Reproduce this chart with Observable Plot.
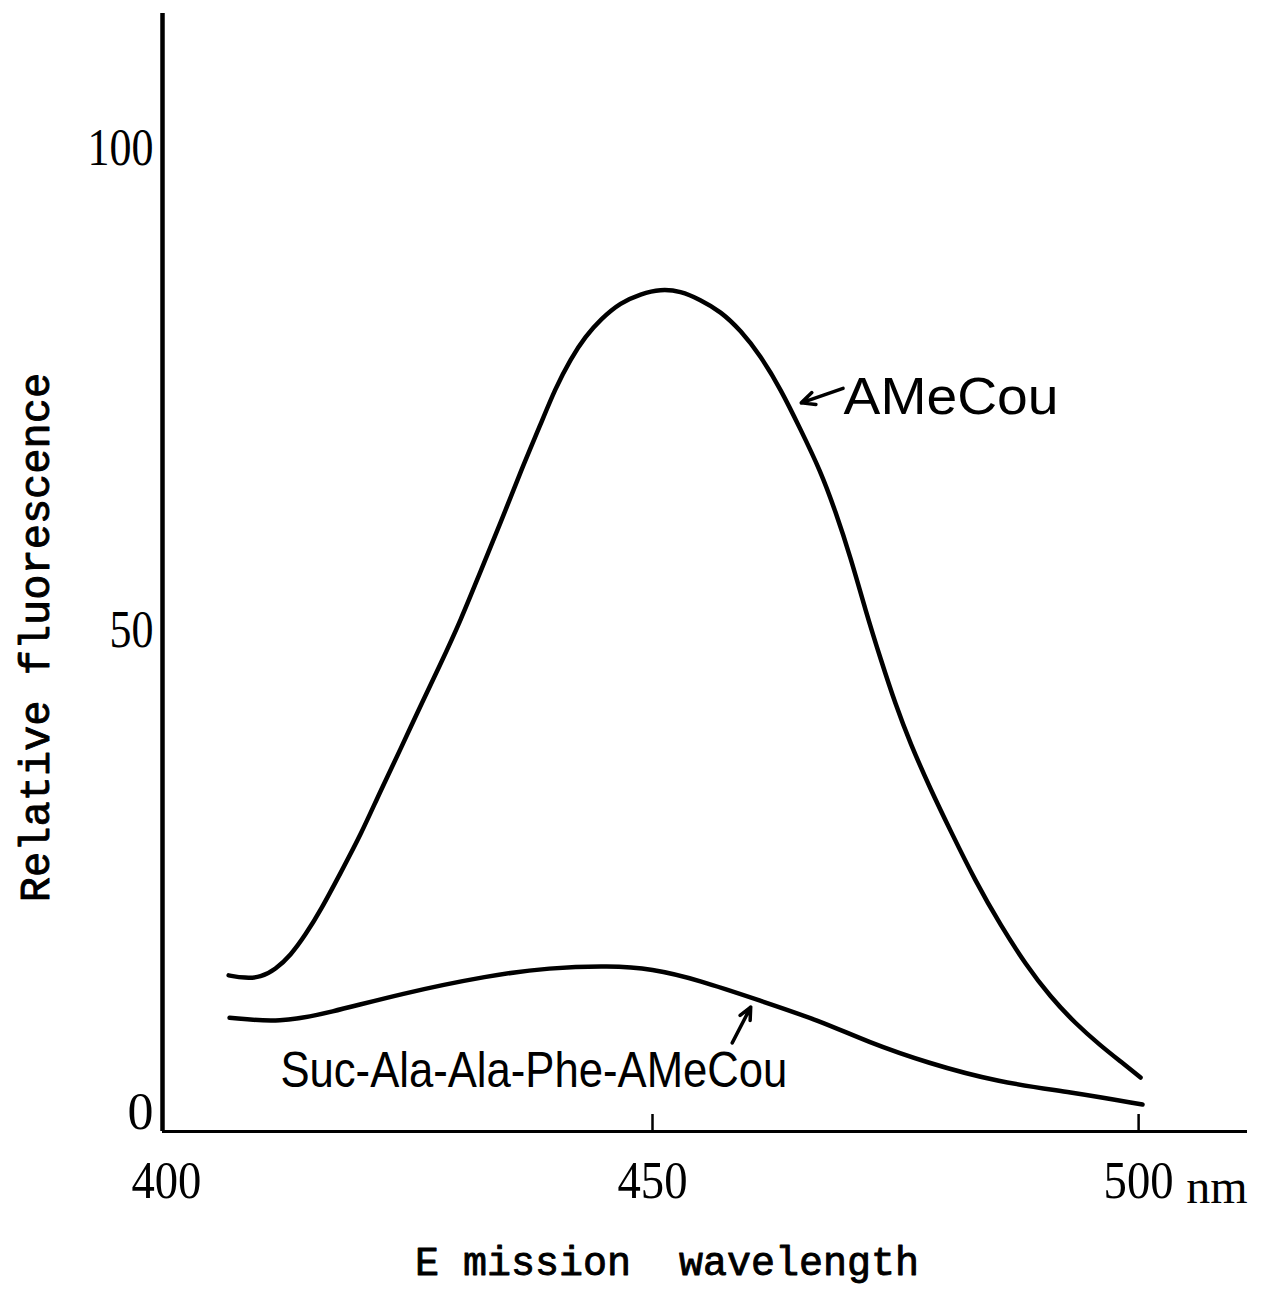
<!DOCTYPE html>
<html><head><meta charset="utf-8">
<script src="https://cdn.jsdelivr.net/npm/d3@7"></script>
<script src="https://cdn.jsdelivr.net/npm/@observablehq/plot@0.6"></script>
<style>body{margin:0;background:#fff} svg{display:block}</style>
</head><body><div id="chart"></div>
<script>
// AMeCou emission spectrum
const wavelengthAMeCou = [406.4,408.1,409.7,411.2,412.8,414.3,415.9,417.9,420.0,422.0,424.1,426.1,428.2,430.3,432.3,434.4,436.4,438.5,440.0,441.6,443.1,444.7,446.7,448.8,450.8,452.9,454.9,457.0,459.1,461.1,463.2,465.2,467.3,468.8,470.4,471.9,473.5,475.0,476.5,478.6,480.7,483.2,485.8,488.4,490.9,493.5,496.1,498.1,500.2];
const fluorAMeCou = [14.2,13.9,14.0,14.8,16.3,18.4,21.0,24.8,28.8,33.3,37.7,42.1,46.5,51.1,56.1,61.2,66.4,71.4,75.1,78.2,80.5,82.3,84.0,84.9,85.4,85.2,84.3,83.1,81.1,78.5,75.0,70.9,66.5,62.4,57.5,52.1,46.9,42.3,38.3,33.5,29.1,24.0,19.4,15.3,12.0,9.2,6.9,5.3,3.6];
// Suc-Ala-Ala-Phe-AMeCou emission spectrum
const wavelengthSuc = [406.5,411.7,416.7,424.1,433.2,439.4,445.6,449.9,454.8,461.0,467.2,472.1,478.3,485.6,493.0,500.4];
const fluorSuc = [9.8,9.3,10.3,12.3,14.2,15.0,15.2,14.9,13.7,11.6,9.5,7.3,5.1,3.1,2.1,0.8];

const xTickLabels = [400, 450, 500];
const xTickMarks = [450, 500];
const yTickLabels = [0, 50, 100];
const xDomain = [399.6, 511.2];
const yDomain = [-2, 114];

const seriesNames = ["AMeCou", "Suc-Ala-Ala-Phe-AMeCou"];
// annotation anchors (data space)
const labelX = [469.65, 437.8];
const labelY = [74.2, 4.3];
const arrowFromX = [469.6, 458.2];
const arrowFromY = [75.1, 7.2];
const arrowToX = [465.3, 460.1];
const arrowToY = [73.6, 10.9];

const amecou = wavelengthAMeCou.map((x, i) => ({x, y: fluorAMeCou[i]}));
const suc = wavelengthSuc.map((x, i) => ({x, y: fluorSuc[i]}));
const labels = seriesNames.map((name, i) => ({name, x: labelX[i], y: labelY[i]}));
const arrows = seriesNames.map((name, i) => ({x1: arrowFromX[i], y1: arrowFromY[i], x2: arrowToX[i], y2: arrowToY[i]}));

const serif = "'Liberation Serif', 'DejaVu Serif', serif";
const mono = "'Liberation Mono', 'DejaVu Sans Mono', monospace";
const sans = "'Liberation Sans', Arial, sans-serif";

const chart = Plot.plot({
  width: 1261,
  height: 1297,
  marginLeft: 162,
  marginRight: 14,
  marginTop: 13,
  marginBottom: 166,
  style: {background: "#fff", color: "#000"},
  x: {domain: xDomain},
  y: {domain: yDomain},
  marks: [
    Plot.ruleX([xDomain[0]], {stroke: "#000", strokeWidth: 4.5}),
    Plot.ruleY([yDomain[0]], {stroke: "#000", strokeWidth: 3}),
    Plot.axisY({ticks: yTickLabels, tickSize: 0, tickPadding: 9, fontSize: 52, fontFamily: serif, label: null}),
    Plot.axisX({ticks: xTickMarks, tickSize: -17, strokeWidth: 2.5, tickFormat: () => "", label: null}),
    Plot.text(xTickLabels, {x: d => d, frameAnchor: "bottom", dy: 50, text: d => String(d), fontSize: 52, fontFamily: serif, lineAnchor: "middle"}),
    Plot.text(["nm"], {frameAnchor: "bottom-right", dy: 56, textAnchor: "end", fontSize: 48, fontFamily: serif, lineAnchor: "middle"}),
    Plot.text(["E mission  wavelength"], {frameAnchor: "bottom", dx: -38, dy: 131, fontSize: 40, fontFamily: mono, fill: "#000", stroke: "#000", strokeWidth: 0.9, lineAnchor: "middle"}),
    Plot.text(["Relative fluorescence"], {frameAnchor: "left", textAnchor: "middle", dx: -127, dy: 65, rotate: -90, fontSize: 42, fontFamily: mono, fill: "#000", stroke: "#000", strokeWidth: 0.9, lineAnchor: "middle"}),
    Plot.line(amecou, {x: "x", y: "y", curve: "basis", stroke: "#000", strokeWidth: 4.5}),
    Plot.line(suc, {x: "x", y: "y", curve: "basis", stroke: "#000", strokeWidth: 4.5}),
    Plot.arrow(arrows, {x1: "x1", y1: "y1", x2: "x2", y2: "y2", stroke: "#000", strokeWidth: 3.5, headLength: 14, headAngle: 50}),
    Plot.text(labels.slice(0, 1), {x: "x", y: "y", text: "name", textAnchor: "start", fontSize: 52, fontFamily: sans, lineAnchor: "middle"}),
    Plot.text(labels.slice(1), {x: "x", y: "y", text: "name", textAnchor: "middle", fontSize: 50, fontFamily: sans, lineAnchor: "middle"})
  ]
});

// match the narrow lettering widths of the reference
chart.querySelectorAll("text").forEach(t => {
  const s = t.textContent;
  if (s === "Suc-Ala-Ala-Phe-AMeCou") { t.setAttribute("textLength", 507); t.setAttribute("lengthAdjust", "spacingAndGlyphs"); }
  if (s === "AMeCou") { t.setAttribute("textLength", 215); t.setAttribute("lengthAdjust", "spacingAndGlyphs"); }
  if (s === "100") { t.setAttribute("textLength", 66); t.setAttribute("lengthAdjust", "spacingAndGlyphs"); }
  if (s === "400" || s === "450" || s === "500") { t.setAttribute("textLength", 70); t.setAttribute("lengthAdjust", "spacingAndGlyphs"); }
  if (s === "50") { t.setAttribute("textLength", 44); t.setAttribute("lengthAdjust", "spacingAndGlyphs"); }
});
document.getElementById("chart").appendChild(chart);
</script>
</body></html>
